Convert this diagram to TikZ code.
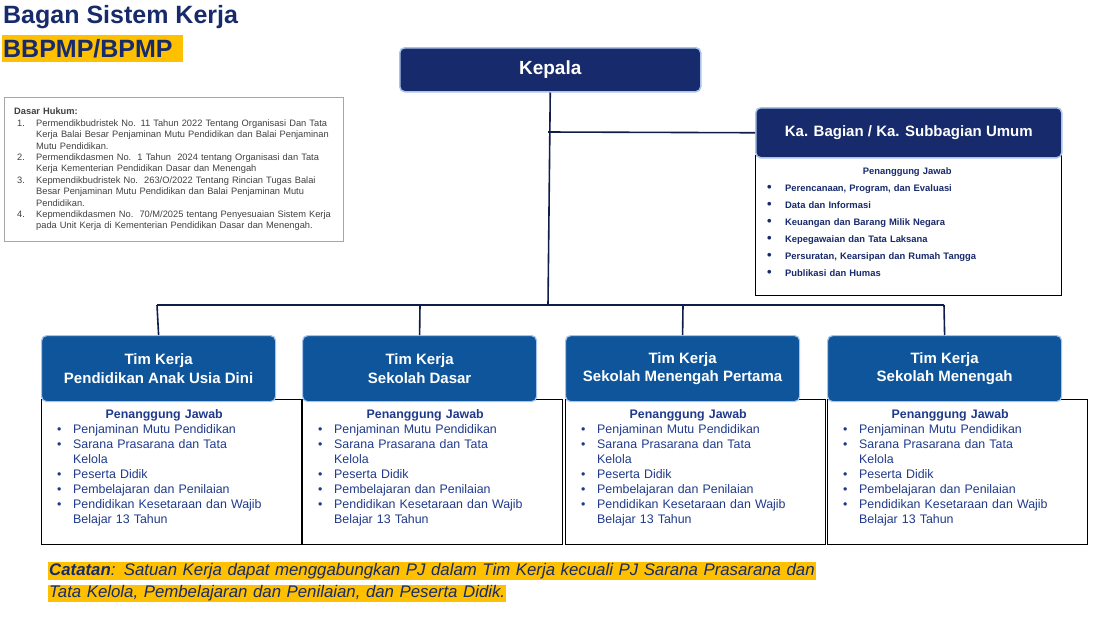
\documentclass[tikz,border=0pt]{standalone}
\usepackage{fontspec}
\setmainfont{Liberation Sans}
\lefthyphenmin=62
\definecolor{navy}{HTML}{172A6B}
\definecolor{tblue}{HTML}{0E559B}
\definecolor{ltxt}{HTML}{1F3A8A}
\definecolor{hl}{HTML}{FFC000}
\definecolor{bord}{HTML}{A9C4EB}
\newcommand{\itm}[1]{\par\hangindent=16pt\hangafter=1\noindent\makebox[16pt][l]{\textbullet}#1}
\newcommand{\kitm}[1]{\par\noindent\makebox[18pt][l]{\raisebox{-0.5pt}{\fontsize{13}{13}\selectfont\textbullet}}#1}
\newcommand{\nitm}[2]{\par\hangindent=22pt\hangafter=1\noindent\makebox[22pt][l]{\hspace{3pt}#1}#2}
\tikzset{
 x=1pt,y=-1pt,
 conn/.style={line width=1.6pt,draw=navy!70!black},
 head/.style={draw=bord,line width=1.2pt,rounded corners=5pt,fill=tblue,text=white,font=\bfseries\fontsize{15}{18.5}\selectfont,align=center,anchor=north west,inner sep=0pt},
 lbox/.style={draw=black,line width=0.8pt,anchor=north west,inner sep=0pt},
 ltext/.style={anchor=north west,text=ltxt,font=\fontsize{12.4}{15}\selectfont,text width=214pt,align=left,inner sep=0pt},
}
\newcommand{\team}[4]{%
 \node[lbox,minimum width=260pt,minimum height=145pt] (#1l) at (#2,399) {};
 \node[head,minimum width=234pt,minimum height=66pt] (#1) at (#2,335) {Tim Kerja\\#3};
 \node[ltext] (#1t) at (#2+16,409) {\hspace*{0pt}\hfill\textbf{Penanggung Jawab}\hfill\hspace*{0pt}
 \itm{Penjaminan Mutu Pendidikan}
 \itm{Sarana Prasarana dan Tata\newline Kelola}
 \itm{Peserta Didik}
 \itm{Pembelajaran dan Penilaian}
 \itm{Pendidikan Kesetaraan dan Wajib Belajar 13 Tahun}\par};
 \coordinate (#1top) at (#4,335);
 \coordinate (#1bus) at (#4,305);
}
\begin{document}
\begin{tikzpicture}
\useasboundingbox (0,0) rectangle (1100,619);
% title
\node[anchor=north west,inner sep=0pt,text=navy,font=\bfseries\fontsize{25}{28}\selectfont] (title) at (3,5) {Bagan Sistem Kerja};
\node[anchor=north west,inner xsep=1pt,inner ysep=2pt,fill=hl,text=navy,font=\bfseries\fontsize{25}{28}\selectfont,text width=179pt,minimum height=27pt,align=left] (sub) at (2,35) {BBPMP/BPMP};
% dasar hukum
\node[draw=gray!70,line width=0.8pt,anchor=north west,minimum width=339pt,minimum height=144pt,inner sep=0pt] (dh) at (4,97) {};
\node[anchor=north west,inner sep=0pt,text width=318pt,align=left,text=black!75,font=\fontsize{9.3}{11.4}\selectfont] (dht) at (14,108) {\textbf{Dasar Hukum:}
\nitm{1.}{Permendikbudristek No. 11 Tahun 2022 Tentang Organisasi Dan Tata Kerja Balai Besar Penjaminan Mutu Pendidikan dan Balai Penjaminan Mutu Pendidikan.}
\nitm{2.}{Permendikdasmen No.\ \ 1 Tahun\ \ 2024 tentang Organisasi dan Tata Kerja Kementerian Pendidikan Dasar dan Menengah}
\nitm{3.}{Kepmendikbudristek No.\ \ 263/O/2022 Tentang Rincian Tugas Balai Besar Penjaminan Mutu Pendidikan dan Balai Penjaminan Mutu Pendidikan.}
\nitm{4.}{Kepmendikdasmen No.\ \ 70/M/2025 tentang Penyesuaian Sistem Kerja pada Unit Kerja di Kementerian Pendidikan Dasar dan Menengah.}\par};
% kepala
\node[draw=bord,line width=1.5pt,rounded corners=5pt,fill=navy,text=white,font=\bfseries\fontsize{19}{22}\selectfont,anchor=north west,minimum width=301pt,minimum height=44pt] (kepala) at (399,47) {Kepala};
% ka bagian
\node[lbox,minimum width=306pt,minimum height=140pt] (kbl) at (755,155) {};
\node[draw=bord,line width=1.5pt,rounded corners=5pt,fill=navy,text=white,font=\bfseries\fontsize{15}{18}\selectfont,anchor=north west,minimum width=306pt,minimum height=50pt] (kb) at (755,107) {Ka. Bagian / Ka. Subbagian Umum};
\node[anchor=north west,inner sep=0pt,text width=280pt,text=navy,font=\bfseries\fontsize{9.4}{17}\selectfont] (kbt) at (767,167) {\hspace*{0pt}\hfill Penanggung Jawab\hfill\hspace*{0pt}
\kitm{Perencanaan, Program, dan Evaluasi}
\kitm{Data dan Informasi}
\kitm{Keuangan dan Barang Milik Negara}
\kitm{Kepegawaian dan Tata Laksana}
\kitm{Persuratan, Kearsipan dan Rumah Tangga}
\kitm{Publikasi dan Humas}\par};
% teams
\team{a}{41}{Pendidikan Anak Usia Dini}{157}
\team{b}{302}{Sekolah Dasar}{420}
\team{c}{565}{Sekolah Menengah Pertama}{683}
\team{d}{827}{Sekolah Menengah}{944}
% connectors
\coordinate (bus) at (548,305);
\coordinate (jb) at (548,132);
\draw[conn] (kepala.south) -- (bus);
\draw[conn] (jb) -- (kb.west);
\draw[conn] (abus) -- (dbus);
\draw[conn] (abus) -- (a.north);
\draw[conn] (bbus) -- (b.north);
\draw[conn] (cbus) -- (c.north);
\draw[conn] (dbus) -- (d.north);
% catatan
\node[anchor=north west,inner sep=0pt,text=navy,font=\itshape\fontsize{16.8}{22.5}\selectfont,text width=800pt,align=left] (cat) at (48,562) {\setlength{\fboxsep}{1pt}\colorbox{hl}{\textbf{Catatan}: Satuan Kerja dapat menggabungkan PJ dalam Tim Kerja kecuali PJ Sarana Prasarana dan}\par\colorbox{hl}{Tata Kelola, Pembelajaran dan Penilaian, dan Peserta Didik.}\par};
\end{tikzpicture}
\end{document}
